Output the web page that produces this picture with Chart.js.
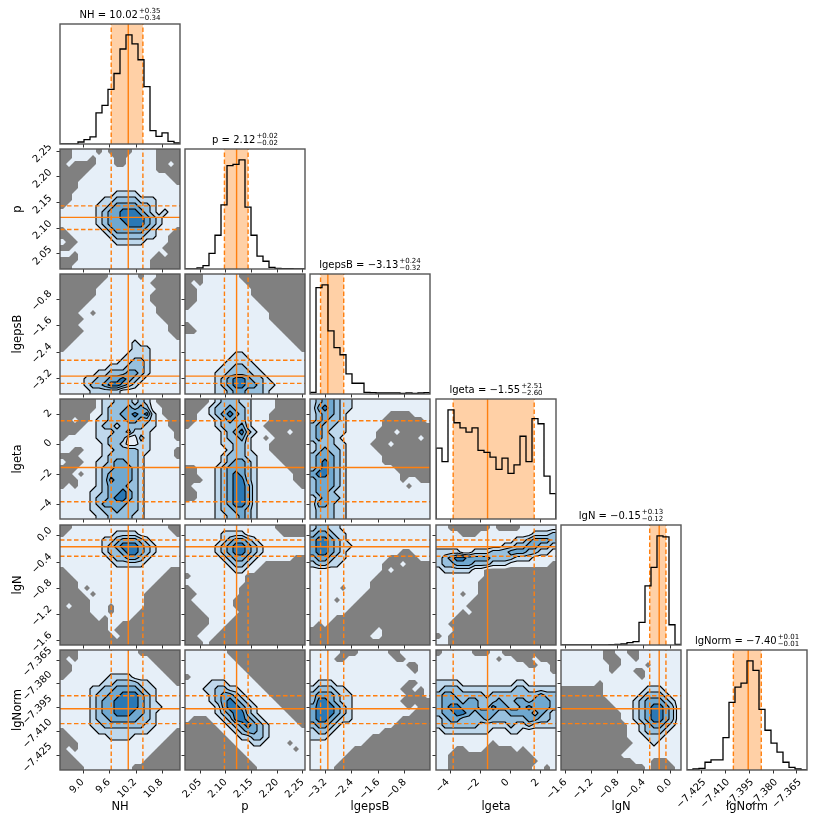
<!DOCTYPE html>
<html><head><meta charset="utf-8">
<script src="https://cdn.jsdelivr.net/npm/chart.js@4.4.0/dist/chart.umd.min.js"></script>
<style>
html,body{margin:0;padding:0;background:#fff;}
#wrap{position:relative;width:830px;height:830px;overflow:hidden;font-family:"DejaVu Sans",sans-serif;color:#000;}
canvas{position:absolute;}
.ttl{position:absolute;width:200px;text-align:center;font-size:10px;line-height:16px;height:16px;white-space:nowrap;}
.ss{display:inline-flex;flex-direction:column;font-size:7px;line-height:7.5px;vertical-align:middle;margin-left:1px;text-align:left;}
.lbl{position:absolute;font-size:11.5px;white-space:nowrap;transform:translate(-50%,-50%);}
.lbl.v{transform:translate(-50%,-50%) rotate(-90deg);}
</style></head><body><div id="wrap"></div>
<script>
// ---------------- data ----------------
const params = ["NH","p","lgepsB","lgeta","lgN","lgNorm"];
const rangeMin = [8.458, 2.0205, -3.67, -5.0, -1.667, -7.434];
const rangeMax = [11.204, 2.2545, -0.04, 3.03, 0.166, -7.3587];
const tickValues = [[9.0,9.6,10.2,10.8],[2.05,2.10,2.15,2.20,2.25],[-3.2,-2.4,-1.6,-0.8],[-4,-2,0,2],[-1.6,-1.2,-0.8,-0.4,0.0],[-7.425,-7.410,-7.395,-7.380,-7.365]];
const tickLabels = [["9.0","9.6","10.2","10.8"],["2.05","2.10","2.15","2.20","2.25"],["\u22123.2","\u22122.4","\u22121.6","\u22120.8"],["\u22124","\u22122","0","2"],["\u22121.6","\u22121.2","\u22120.8","\u22120.4","0.0"],["\u22127.425","\u22127.410","\u22127.395","\u22127.380","\u22127.365"]];
const qLow  = [9.63, 2.0974, -3.35, -3.85, -0.312, -7.4049];
const qMed  = [10.02, 2.1211, -3.13, -1.55, -0.167, -7.3956];
const qHigh = [10.355, 2.1435, -2.65, 1.57, -0.064, -7.3874];
const titleMed   = ["10.02","2.12","\u22123.13","\u22121.55","\u22120.15","\u22127.40"];
const titlePlus  = ["+0.35","+0.02","+0.24","+2.51","+0.13","+0.01"];
const titleMinus = ["\u22120.34","\u22120.02","\u22120.32","\u22122.60","\u22120.12","\u22120.01"];

const histNH     = [0,0,0,6,13,21,93,115,163,210,283,325,298,251,171,40,23,33,8,3];
const histP      = [0,0,3,10,46,100,190,306,310,323,183,100,38,23,5,2,1,1,0,0];
const histLgepsB = [5,317,325,188,138,117,60,32,32,5,4,3,3,3,3,2,3,2,3,4];
const histLgeta  = [210,170,323,285,270,257,270,203,197,183,147,180,135,160,245,170,297,282,127,75];
const histLgN    = [0,0,0,0,0,0,0,0,1,2,3,7,10,67,175,230,323,320,60,2];
const histLgNorm = [0,3,5,23,30,30,96,201,246,258,324,296,180,118,80,53,23,8,3,0];

// 2D density levels per bin (row 0 = top). 0 empty, 1 sampled, 2..5 contour bands
const gridP_NH = ["00111101000011110000","00111011100111110000","01000011100111110010","00000111111111110000","00001111111111111100","00011111111111111110","00011111111111111111","00111111122221111111","00111112233332221111","01111122344443321111","11111123445554321211","11111123445555432111","11111123444555432111","01111112344444321110","00111111233333221100","10011111122222111100","00111111111111111000","11011111111111110100","00011111111111100000","00111111111111100000"];
const gridE_NH = ["00000000111110110000","00000001111111100000","00000011111111110000","00000011111111100000","00000111111111100000","00001111111111110000","00011011111111110000","00001111111111111000","00011111111111111100","00001111111111111100","00011111111111111110","00111111111121111111","01111111111122211111","11111111111222211111","11111111112233211111","11111111222333211111","11111122333443211111","11112233445432111111","11112334554321111111","11111222221111111111"];
const gridE_P  = ["00011111100000000000","01011111110000000000","00111111111000000000","00111111111000000000","00111111111100000000","01111111111110000000","11111111111111000000","11111111111111000000","01111111111111100000","00111111111111110000","11111111111111111000","11111111111111111100","11111111111111111110","11111111221111111111","11111112222111111111","11111122332211111111","11111223333221111111","11111234554332111111","11111234554432211111","11111223443332111111"];
const gridH_NH = ["00000012233323210000","00000012333434311000","00000112334454521000","00100122333443321100","00001123323333221100","00011122233422211110","01111122333113211110","11111112332112211111","11001112233332211110","00011112333332111110","10001122344332111111","00011123344432111111","00101123444432111111","00011123544432111111","01011123444332111111","11111223445432111111","11111233455432111111","11111234444332111111","11111223343332111111","11111122333322111111"];
const gridH_P  = ["00001233322111100000","00012334332111100000","00112345432111000000","00111234332111000000","01111233342110000000","11111123453211000100","11111123342110100000","11111122332111000000","11111112332111000000","11111123332211100000","11111123443211110000","00111234443211111000","00111234543211111100","00011234553211111100","01111234554211111110","00111234554211111111","00111234554211111111","11111234554211111111","11111233443211111111","11111223343211111111"];
const gridH_E  = ["23443221111111111111","24543221111111111111","23443211111110000111","23433211111100000001","34332211111100000000","34322211111000100000","34332111111000000010","23332211110001000000","23433211111000000000","34443211111100000000","34543211111100000000","34543211111111000000","45543211111111100000","34443211111111101100","34443211111111110111","34432211111111111111","23433211111111111111","24432211111111111111","23332211111111111111","23332211111111111111"];
const gridN_NH = ["00111111111111111100","01111111122221111110","11111112234443211111","11111112345554321111","11111112334554321111","11111111233443211111","11111111122222111111","01111111111111111100","00111111111111111000","00011111111111110000","00010111111111100000","00001011111111000000","00000111111111000000","01000111011111000000","00000111011110000000","00000010111100000000","00000000110000000000","00000000100000000000","00000000010000000000","00000000000000000000"];
const gridN_P  = ["11111111111111100000","11111122221111110000","11111123443211111111","11111234554321111111","11111234554321111111","11111123443211111100","11111112332110000000","11111111221100000000","01111111110000000000","11111111110000000000","01111111100000000000","00111111100000000000","01111111000000000000","00111111000000000000","00011111100000000000","00001111000000000000","00001110000000000000","00011100000000000000","00111000000000000000","00010000000000000000"];
const gridN_E  = ["23322111111111111111","34432211111111111111","45543211111111111111","45543221111111111111","45543211111111100111","34432211111110000011","23322111111100010000","11111111111101000000","11111111111000000000","11111111110000000000","11111011110000000000","11111111100000000000","11110111000000000000","11111110000000000000","11111100000000000000","11110000000000000000","10100000000000000000","00000000000100000000","00000000001100000000","00000000000000000000"];
const gridN_H  = ["11000000010000111111","11110001111111112223","11111111111112234443","11111111111223344332","22221122233344433221","23455444433332221111","23344433322211111110","12222211000000000000","11111111000000000000","11111110000000000000","11111110000000000000","11110110000000000000","11111100000000000000","11111000000000000000","11110100000000000000","11100000000000000000","11000000000000000000","11100000000000000000","01000000000000000000","11000000000000000000"];
const gridM_NH = ["00011111111110000000","01011111111111100000","00111111111111110000","00111111111111111000","01111111222211111100","11111112233332211110","11111223344443221111","11111233445554321111","11111234455554321111","11111234455554322111","11111234455544321111","11111233444443321111","11111223333333221111","01111122222222211110","00111111222211111100","00011111111111111000","01011111111111110000","00111111111111100000","00011111111111000000","00001111111100000000"];
const gridM_P  = ["11111110000000000000","11111111000000000000","11111111100000000000","11111111110000000000","01111111111000000000","11112221111100000000","11122332211110000000","11112344321111000000","11112345432111100000","11111245543211110000","11111234553211111000","10001123554321111100","00000112345432111110","00000011234432111111","00000001122332111111","00000000111221111011","00000000011111111101","00000000001111111111","00000000000111111111","00000000000011111111"];
const gridM_E  = ["11111000111110011111","11110011111111001111","11111111111111110011","11111111111111111011","11111111111111111111","12221111111111110011","23332211111111100101","34443221111111110001","35543221111111100000","45554321111111110100","45554321111111111000","45543221111111100000","34432111111111000000","23321111111100000000","22211111110000000000","11111111100000000000","11111110000000000000","11111100000000000000","11111000000000000000","11110000000000000000"];
const gridM_H  = ["01111100011000000000","11111111110110001000","11111111111111100110","11111111111111111110","11111111111111111111","22221111111112211111","23332222222223322222","34433333233333333433","34443443334334434443","34554443354433454443","34455434443344443432","23443333433333344332","23333332222232232222","12222222211122111111","11111111111111111111","11111111101111111111","11100111000001011111","11000000000000001111","11000000000000000111","11000000000000001101"];
const gridM_N  = ["11111110011001111111","11111110001101111111","11111111001111011111","11111111011100111111","11111111111110111111","11111101111111111111","00000001111111222111","00000001111112333211","00000000111123444321","00000000011123455431","00000000001123455431","00000000001123455431","00000000000112344321","00000000000112333211","00000000000111222111","00000000000011121111","00000000000111111111","00000000001111111111","00000000000011100011","00000000000000100001"];

// ---------------- layout / style ----------------
const hists = [histNH, histP, histLgepsB, histLgeta, histLgN, histLgNorm];
const grids = {"1-0":gridP_NH,"2-0":gridE_NH,"2-1":gridE_P,"3-0":gridH_NH,"3-1":gridH_P,"3-2":gridH_E,
  "4-0":gridN_NH,"4-1":gridN_P,"4-2":gridN_E,"4-3":gridN_H,"5-0":gridM_NH,"5-1":gridM_P,"5-2":gridM_E,"5-3":gridM_H,"5-4":gridM_N};
const colLeft = [60,185,310,436,561,687];
const rowTop  = [24,149,274,399,525,650];
const PS = 120, ML = 60, MB = 60, MT = 4, MR = 4;
const levelColors = ['#808080','#e6eff8','#bfd8ec','#97c0de','#6fa8d0','#2a78b5'];
const ORANGE = '#ff7f0e';
const xLabelOffset = [-1, 0, 0, -3, 0, 3];
const yLabelOffset = [0, -6, -7, -3, -7, -11];

Chart.defaults.font.family = '"DejaVu Sans", sans-serif';
const wrap = document.getElementById('wrap');

function drawDensity(chart, rows, xp, yp) {
  const ctx = chart.ctx, ca = chart.chartArea, xs = chart.scales.x, ys = chart.scales.y;
  const nr = rows.length, nc = rows[0].length;
  const V = rows.map(r => Array.from(r, Number));
  const dx = (rangeMax[xp]-rangeMin[xp])/nc, dy = (rangeMax[yp]-rangeMin[yp])/nr;
  const gx = [xs.getPixelForValue(rangeMin[xp])];
  for (let c=0;c<nc;c++) gx.push(xs.getPixelForValue(rangeMin[xp]+(c+0.5)*dx));
  gx.push(xs.getPixelForValue(rangeMax[xp]));
  const gy = [ys.getPixelForValue(rangeMax[yp])];
  for (let r=0;r<nr;r++) gy.push(ys.getPixelForValue(rangeMax[yp]-(r+0.5)*dy));
  gy.push(ys.getPixelForValue(rangeMin[yp]));
  const val = (r,c) => V[Math.min(nr-1,Math.max(0,r-1))][Math.min(nc-1,Math.max(0,c-1))];
  const corners = (r,c) => [[gx[c],gy[r],val(r,c)],[gx[c+1],gy[r],val(r,c+1)],[gx[c+1],gy[r+1],val(r+1,c+1)],[gx[c],gy[r+1],val(r+1,c)]];
  ctx.save();
  ctx.beginPath(); ctx.rect(ca.left, ca.top, ca.width, ca.height); ctx.clip();
  ctx.fillStyle = levelColors[0]; ctx.fillRect(ca.left, ca.top, ca.width, ca.height);
  for (let L=1; L<levelColors.length; L++) {
    const t = L-0.5;
    ctx.beginPath();
    for (let r=0;r<=nr;r++) for (let c=0;c<=nc;c++) {
      const q = corners(r,c), pts=[];
      for (let k=0;k<4;k++) {
        const a=q[k], b=q[(k+1)%4], ia=a[2]>=t, ib=b[2]>=t;
        if (ia) pts.push(a);
        if (ia!==ib) { const f=(t-a[2])/(b[2]-a[2]); pts.push([a[0]+f*(b[0]-a[0]), a[1]+f*(b[1]-a[1])]); }
      }
      if (pts.length>=3) { ctx.moveTo(pts[0][0],pts[0][1]); for (let k=1;k<pts.length;k++) ctx.lineTo(pts[k][0],pts[k][1]); ctx.closePath(); }
    }
    ctx.fillStyle = levelColors[L]; ctx.fill();
  }
  ctx.strokeStyle = '#000'; ctx.lineWidth = 1.1; ctx.lineJoin = 'round'; ctx.lineCap='round';
  ctx.beginPath();
  for (let L=2; L<levelColors.length; L++) {
    const t = L-0.5;
    for (let r=0;r<=nr;r++) for (let c=0;c<=nc;c++) {
      const q = corners(r,c), cr=[null,null,null,null]; let n=0;
      for (let k=0;k<4;k++) {
        const a=q[k], b=q[(k+1)%4], ia=a[2]>=t, ib=b[2]>=t;
        if (ia!==ib) { const f=(t-a[2])/(b[2]-a[2]); cr[k]=[a[0]+f*(b[0]-a[0]), a[1]+f*(b[1]-a[1])]; n++; }
      }
      if (n===2) { const p=cr.filter(Boolean); ctx.moveTo(p[0][0],p[0][1]); ctx.lineTo(p[1][0],p[1][1]); }
      else if (n===4) {
        for (let k=0;k<4;k++) if (q[k][2]<t) { const p1=cr[(k+3)%4], p2=cr[k]; ctx.moveTo(p1[0],p1[1]); ctx.lineTo(p2[0],p2[1]); }
      }
    }
  }
  ctx.stroke();
  ctx.restore();
}

function axisOpts(p, axis, showTicks, showLabels, isDiagY, yMax) {
  const o = {
    type:'linear', display:true,
    min: isDiagY ? 0 : rangeMin[p], max: isDiagY ? yMax : rangeMax[p],
    afterFit: s => { if (axis==='x') s.height = MB; else s.width = ML; s.paddingLeft=0; s.paddingRight=0; s.paddingTop=0; s.paddingBottom=0; },
    border:{display:false},
    grid:{display:showTicks, drawOnChartArea:false, drawTicks:true, tickLength:3.5, color:'#333', lineWidth:1},
    ticks:{display:showLabels, minRotation:45, maxRotation:45, autoSkip:false, color:'#000', font:{size:10},
      padding: axis==='x' ? 3 : 6,
      labelOffset: axis==='x' ? xLabelOffset[p] : yLabelOffset[p],
      callback: (v, idx) => isDiagY ? '' : tickLabels[p][idx]}
  };
  if (!isDiagY) o.afterBuildTicks = s => { s.ticks = tickValues[p].map(v => ({value:v})); };
  return o;
}

function vline(x, y0, y1, dash) {
  return {data:[{x:x,y:y0},{x:x,y:y1}], borderColor:ORANGE, borderWidth:1.4, borderDash:dash?[4.5,2.5]:[], pointRadius:0, fill:false, tension:0};
}
function hline(y, x0, x1, dash) {
  return {data:[{x:x0,y:y},{x:x1,y:y}], borderColor:ORANGE, borderWidth:1.4, borderDash:dash?[4.5,2.5]:[], pointRadius:0, fill:false, tension:0};
}

function makePanel(i, j) {
  const cv = document.createElement('canvas');
  const W = ML+PS+MR, H = MT+PS+MB;
  cv.width = W; cv.height = H;
  cv.style.left = (colLeft[j]-ML)+'px'; cv.style.top = (rowTop[i]-MT)+'px';
  cv.style.width = W+'px'; cv.style.height = H+'px';
  wrap.appendChild(cv);
  const diag = (i===j);
  let datasets = [], yMax = 1;
  if (diag) {
    const h = hists[j], nb = h.length;
    yMax = 1.1*Math.max(...h);
    const e = k => rangeMin[j] + (rangeMax[j]-rangeMin[j])*k/nb;
    // step outline: (e0,0) up to h0, across bin, ... down to 0 at the last edge
    const pts = [{x:e(0),y:0}];
    for (let k=0;k<nb;k++) { pts.push({x:e(k), y:h[k]}); pts.push({x:e(k+1), y:h[k]}); }
    pts.push({x:e(nb), y:0});
    datasets.push({data:pts, borderColor:'#000', borderWidth:1.3, pointRadius:0, fill:false, tension:0});
    datasets.push(vline(qLow[j],0,yMax,true), vline(qMed[j],0,yMax,false), vline(qHigh[j],0,yMax,true));
  } else {
    datasets.push(vline(qLow[j],rangeMin[i],rangeMax[i],true), vline(qMed[j],rangeMin[i],rangeMax[i],false), vline(qHigh[j],rangeMin[i],rangeMax[i],true));
    datasets.push(hline(qLow[i],rangeMin[j],rangeMax[j],true), hline(qMed[i],rangeMin[j],rangeMax[j],false), hline(qHigh[i],rangeMin[j],rangeMax[j],true));
  }
  const panelPlugin = {
    id:'panel'+i+'_'+j,
    beforeDatasetsDraw(chart) {
      const ctx = chart.ctx, ca = chart.chartArea;
      if (diag) {
        const xs = chart.scales.x;
        const a = xs.getPixelForValue(qLow[j]), b = xs.getPixelForValue(qHigh[j]);
        ctx.save(); ctx.fillStyle = 'rgba(255,127,14,0.37)'; ctx.fillRect(a, ca.top, b-a, ca.height); ctx.restore();
      } else {
        drawDensity(chart, grids[i+'-'+j], j, i);
      }
    },
    afterDraw(chart) {
      const ctx = chart.ctx, ca = chart.chartArea;
      ctx.save(); ctx.strokeStyle = '#555'; ctx.lineWidth = 1.4;
      ctx.strokeRect(ca.left, ca.top, ca.width, ca.height); ctx.restore();
    }
  };
  new Chart(cv, {
    type:'line',
    data:{datasets},
    options:{
      responsive:false, animation:false, devicePixelRatio:1, events:[],
      layout:{padding:{left:0,right:MR,top:MT,bottom:0}},
      plugins:{legend:{display:false}, tooltip:{enabled:false}, title:{display:false}},
      scales:{
        x: axisOpts(j, 'x', true, i===5, false),
        y: diag ? axisOpts(j, 'y', false, false, true, yMax) : axisOpts(i, 'y', true, j===0, false)
      }
    },
    plugins:[panelPlugin]
  });
}

for (let i=0;i<6;i++) for (let j=0;j<=i;j++) makePanel(i,j);

// titles
for (let k=0;k<6;k++) {
  const d = document.createElement('div');
  d.className = 'ttl';
  d.style.left = (colLeft[k]+PS/2-100)+'px';
  d.style.top = (rowTop[k]-17)+'px';
  d.innerHTML = params[k] + ' = ' + titleMed[k] + '<span class="ss"><span>'+titlePlus[k]+'</span><span>'+titleMinus[k]+'</span></span>';
  wrap.appendChild(d);
}
// axis labels
for (let k=0;k<6;k++) {
  const b = document.createElement('div');
  b.className = 'lbl'; b.textContent = params[k];
  b.style.left = (colLeft[k]+PS/2)+'px'; b.style.top = '806px';
  wrap.appendChild(b);
  if (k>0) {
    const l = document.createElement('div');
    l.className = 'lbl v'; l.textContent = params[k];
    l.style.left = '17px'; l.style.top = (rowTop[k]+PS/2)+'px';
    wrap.appendChild(l);
  }
}
</script></body></html>
